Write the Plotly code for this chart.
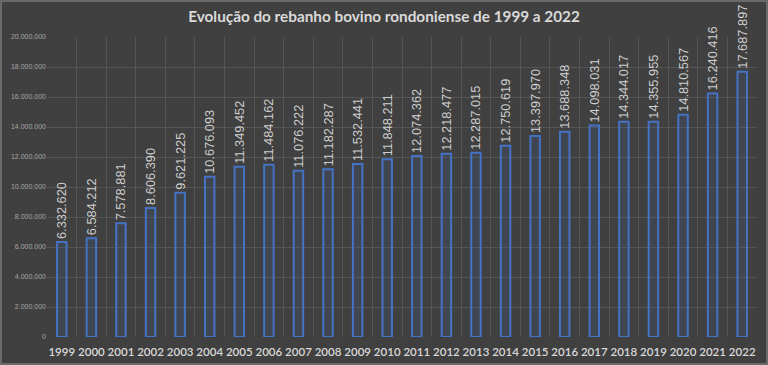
import plotly.graph_objects as go

anos = [str(a) for a in range(1999, 2023)]
rebanho = [6332620, 6584212, 7578881, 8606390, 9621225, 10676093, 11349452,
           11484162, 11076222, 11182287, 11532441, 11848211, 12074362, 12218477,
           12287015, 12750619, 13397970, 13688348, 14098031, 14344017, 14355955,
           14810567, 16240416, 17687897]
titulo = "Evolução do rebanho bovino rondoniense de 1999 a 2022"

fig = go.Figure()
fig.add_trace(go.Bar(
    x=anos, y=rebanho,
    width=0.32,
    marker=dict(color="rgba(68,114,196,0.12)",
                line=dict(color="#4472C4", width=2)),
    text=[f"{v:,}".replace(",", ".") for v in rebanho],
    textposition="outside",
    textangle=-90,
    constraintext="none",
    cliponaxis=False,
    textfont=dict(family="Liberation Sans, Arial, sans-serif", size=12.8, color="#d0d0d0"),
))

fig.update_layout(
    width=768, height=365,
    margin=dict(l=47, r=11, t=37, b=28, autoexpand=False),
    paper_bgcolor="#404040",
    plot_bgcolor="#404040",
    separators=",.",
    showlegend=False,
    title=dict(text=titulo, x=0.5, xanchor="center", y=1 - 17/365, yanchor="middle",
               font=dict(family="Lato, sans-serif", size=15.3, color="#d9d9d9", weight=700)),
    xaxis=dict(type="category", tickson="boundaries", showgrid=True,
               gridcolor="#555555", gridwidth=1, ticks="", showline=False,
               tickangle=0, automargin=False, ticklabelstandoff=6,
               tickfont=dict(family="Lato, sans-serif", size=11.5, color="#d9d9d9", weight=600),
               range=[-0.5, 23.5]),
    yaxis=dict(range=[0, 20000000], dtick=2000000, tickformat=",d", automargin=False,
               showgrid=True, gridcolor="#555555", gridwidth=1, zeroline=False,
               tickfont=dict(family="Liberation Sans, Arial, sans-serif", size=7, color="#a6a6a6"),
               ticks="", ticklen=0),
    shapes=[dict(type="rect", xref="paper", yref="paper",
                 x0=-47/710, x1=1 + 11/710, y0=-28/300, y1=1 + 37/300,
                 line=dict(color="#6a6a6a", width=4), fillcolor="rgba(0,0,0,0)")],
)

fig.write_html("out.html", config={"displayModeBar": False},
               post_script="document.body.style.margin='0';document.body.style.background='#404040';")
